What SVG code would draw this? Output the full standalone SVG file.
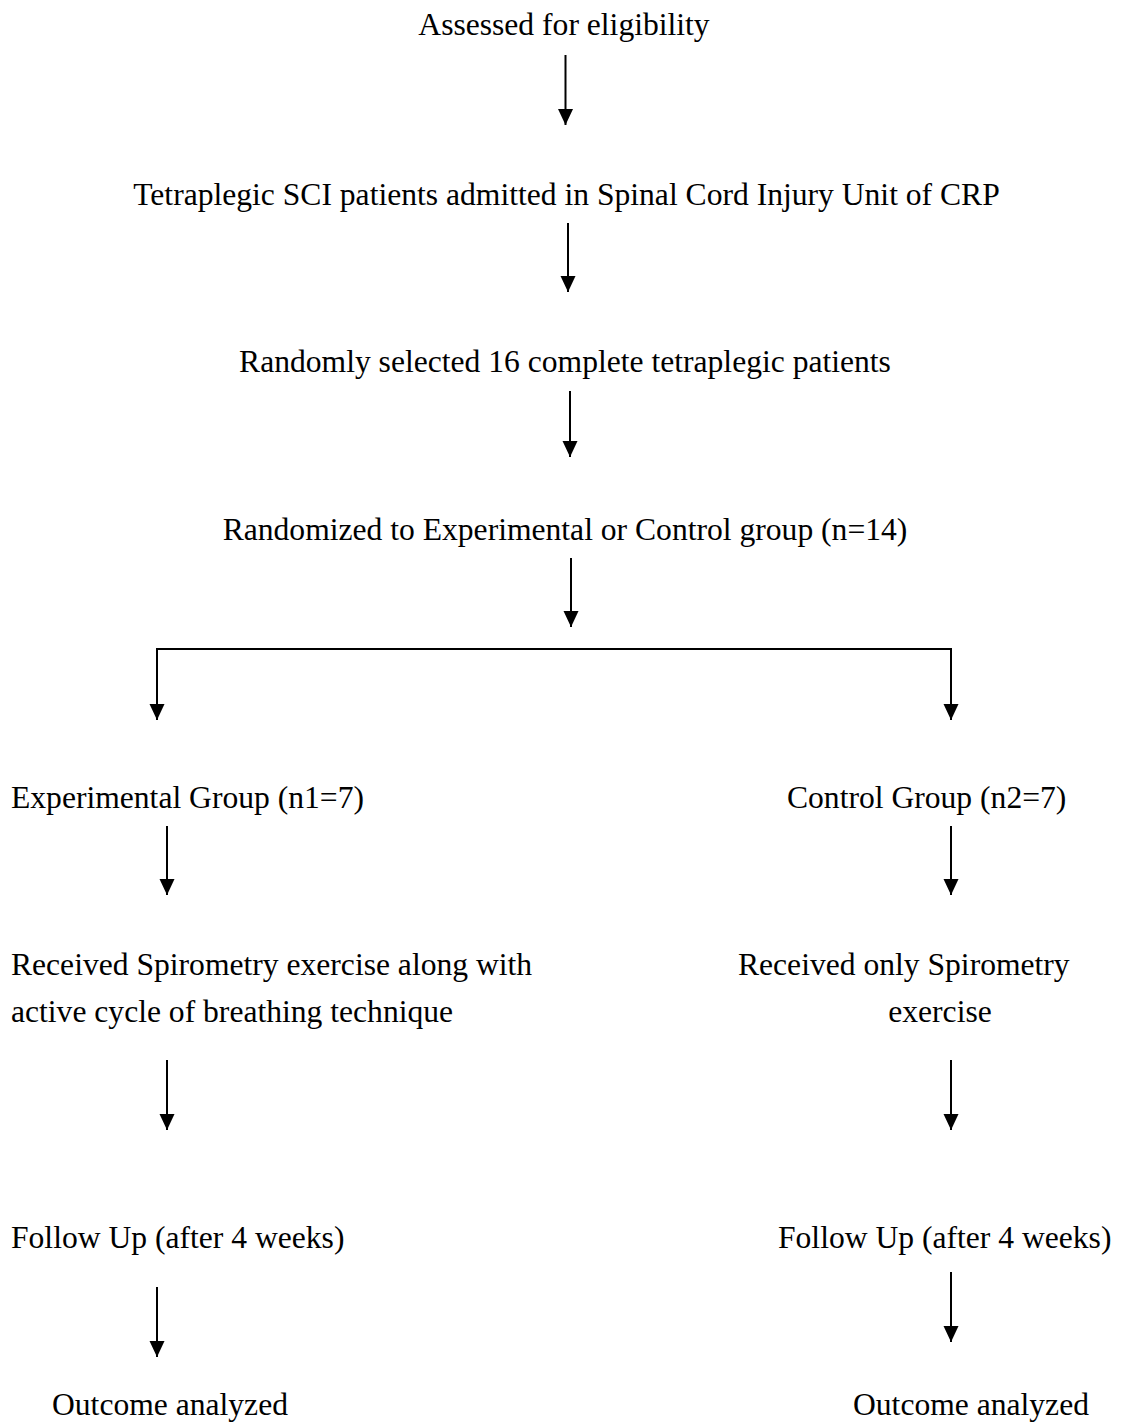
<svg xmlns="http://www.w3.org/2000/svg" width="1126" height="1422" viewBox="0 0 1126 1422">
<defs>
<marker id="ah" viewBox="0 0 16 16" refX="16" refY="8" markerWidth="16" markerHeight="16" markerUnits="userSpaceOnUse" orient="auto">
<path d="M0,0.5 L16,8 L0,15.5 z" fill="#000"/>
</marker>
<style>
text{font-family:"Liberation Serif","Times New Roman",serif;font-size:31.6px;fill:#000}
.c{text-anchor:middle}
.ln{stroke:#000;stroke-width:2;fill:none}
</style>
</defs>
<rect width="1126" height="1422" fill="#fff"/>
<g id="n1"><text class="c" x="564" y="35">Assessed for eligibility</text></g>
<g id="n2"><text class="c" x="566.5" y="205">Tetraplegic SCI patients admitted in Spinal Cord Injury Unit of CRP</text></g>
<g id="n3"><text class="c" x="565" y="372">Randomly selected 16 complete tetraplegic patients</text></g>
<g id="n4"><text class="c" x="565" y="540">Randomized to Experimental or Control group (n=14)</text></g>
<g id="n5"><text x="11" y="808">Experimental Group (n1=7)</text></g>
<g id="n6"><text x="787" y="808">Control Group (n2=7)</text></g>
<g id="n7"><text x="11" y="975">Received Spirometry exercise along with</text><text x="11" y="1022">active cycle of breathing technique</text></g>
<g id="n8"><text x="738" y="975">Received only Spirometry</text><text class="c" x="940" y="1022">exercise</text></g>
<g id="n9"><text x="11" y="1248">Follow Up (after 4 weeks)</text></g>
<g id="n10"><text x="778" y="1248">Follow Up (after 4 weeks)</text></g>
<g id="n11"><text x="52" y="1415">Outcome analyzed</text></g>
<g id="n12"><text x="853" y="1415">Outcome analyzed</text></g>
<g id="connectors">
<path class="ln" d="M565.5,55 V125" marker-end="url(#ah)"/>
<path class="ln" d="M568,223 V292" marker-end="url(#ah)"/>
<path class="ln" d="M570,391 V457" marker-end="url(#ah)"/>
<path class="ln" d="M571,558 V627" marker-end="url(#ah)"/>
<path class="ln" d="M157,649 H951 V720" marker-end="url(#ah)"/>
<path class="ln" d="M157,648 V720" marker-end="url(#ah)"/>
<path class="ln" d="M167,826 V895" marker-end="url(#ah)"/>
<path class="ln" d="M951,826 V895" marker-end="url(#ah)"/>
<path class="ln" d="M167,1060 V1130" marker-end="url(#ah)"/>
<path class="ln" d="M951,1060 V1130" marker-end="url(#ah)"/>
<path class="ln" d="M157,1287 V1357" marker-end="url(#ah)"/>
<path class="ln" d="M951,1272 V1342" marker-end="url(#ah)"/>
</g>
</svg>
